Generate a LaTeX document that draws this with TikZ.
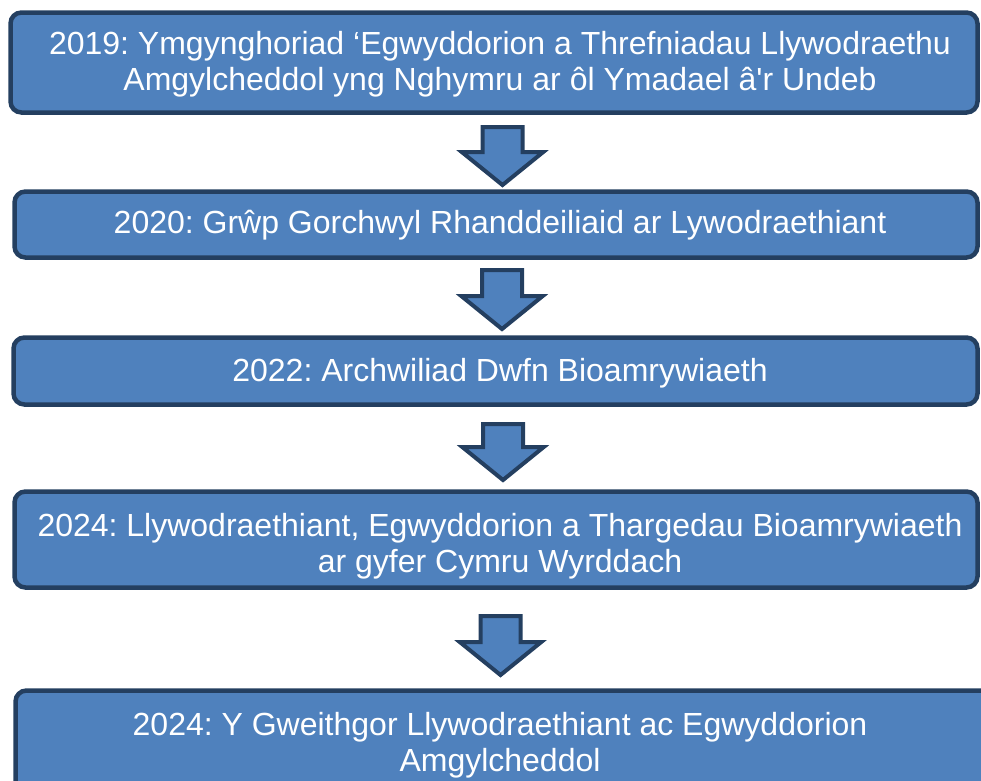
\documentclass[tikz,border=0pt]{standalone}
\usepackage{fontspec}
\setmainfont{Liberation Sans}
\newfontfamily\rawfont{Liberation Sans}[Ligatures=ResetAll]
\usetikzlibrary{shapes.arrows}
\definecolor{boxfill}{HTML}{4F81BD}
\definecolor{boxline}{HTML}{243F60}
\frenchspacing
\begin{document}
\begin{tikzpicture}[x=1pt,y=-1pt,
  stagebox/.style={draw=boxline, fill=boxfill, line width=4.5pt, rounded corners=11pt,
    rectangle, inner sep=0pt, outer sep=0pt},
  stagetext/.style={text=white, align=center, inner sep=0pt,
    font=\fontsize{32}{35.5}\selectfont},
  downarrow/.style={draw=boxline, fill=boxfill, line width=4pt, shape=single arrow,
    rotate=-90, anchor=tail, inner xsep=0pt, inner ysep=18pt, outer sep=0pt,
    single arrow head extend=20.5pt, single arrow tip angle=102}
]
\useasboundingbox (0,0) rectangle (981,780);
\clip (0,0) rectangle (981,780);
% boxes
\node[stagebox, minimum width=967pt, minimum height=100pt] (b1) at (494,62.5) {};
\node[stagebox, minimum width=963pt, minimum height=66pt] (b2) at (496,224.5) {};
\node[stagebox, minimum width=964pt, minimum height=67pt] (b3) at (495.5,371) {};
\node[stagebox, minimum width=963pt, minimum height=96pt] (b4) at (496,539.5) {};
\node[stagebox, minimum width=1000pt, minimum height=130pt] (b5) at (515.5,755.5) {};
% texts
\node[stagetext] (t1) at (500,64) {2019: Ymgynghoriad ‘Egwyddorion a Threfniadau Llywodraethu\\Amgylcheddol yng Nghymru ar ôl Ymadael â{\rawfont'}r Undeb};
\node[stagetext] (t2) at (500,225.5) {2020: Grŵp Gorchwyl Rhanddeiliaid ar Lywodraethiant};
\node[stagetext] (t3) at (500,373) {2022: Archwiliad Dwfn Bioamrywiaeth};
\node[stagetext] (t4) at (500,546) {2024: Llywodraethiant, Egwyddorion a Thargedau Bioamrywiaeth\\ar gyfer Cymru Wyrddach};
\node[stagetext] (t5) at (500,745) {2024: Y Gweithgor Llywodraethiant ac Egwyddorion\\Amgylcheddol};
% arrows
\node[downarrow, minimum height=58pt] (a1) at (502.5,127) {};
\node[downarrow, minimum height=59pt] (a2) at (502,270) {};
\node[downarrow, minimum height=56pt] (a3) at (503,424) {};
\node[downarrow, minimum height=59pt] (a4) at (500.5,616) {};
\end{tikzpicture}
\end{document}
